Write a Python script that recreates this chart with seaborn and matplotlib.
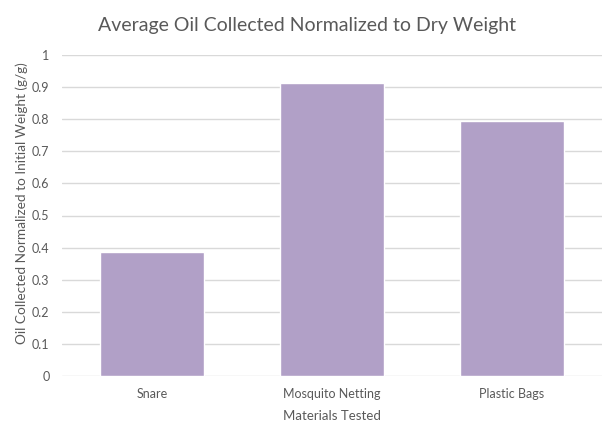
import matplotlib
matplotlib.use("Agg")
import matplotlib.pyplot as plt
import seaborn as sns
import pandas as pd

materials = ["Snare", "Mosquito Netting", "Plastic Bags"]
oil_collected = [0.386, 0.913, 0.794]
y_ticks = [0, 0.1, 0.2, 0.3, 0.4, 0.5, 0.6, 0.7, 0.8, 0.9, 1]
y_tick_labels = ["0", "0.1", "0.2", "0.3", "0.4", "0.5", "0.6", "0.7", "0.8", "0.9", "1"]

sns.set_style("white")
plt.rcParams["font.family"] = ["Lato", "DejaVu Sans"]

df = pd.DataFrame({"Material": materials, "Oil": oil_collected})

fig = plt.figure(figsize=(6.02, 4.24), dpi=100)
ax = fig.add_axes([62 / 602, 48 / 424, 540 / 602, 321 / 424])

sns.barplot(data=df, x="Material", y="Oil", color="#b1a0c7", saturation=1,
            width=0.58, ax=ax, zorder=3)

text_color = "#595959"
ax.set_ylim(0, 1)
ax.set_yticks(y_ticks)
ax.set_yticklabels(y_tick_labels)
ax.yaxis.grid(True, color="#d9d9d9", linewidth=1, zorder=0)
ax.set_axisbelow(True)
for s in ax.spines.values():
    s.set_visible(False)
ax.tick_params(axis="both", length=0, labelsize=9, colors=text_color)
ax.tick_params(axis="y", pad=9)
ax.tick_params(axis="x", pad=9)

ax.set_xlabel("Materials Tested", fontsize=9.5, color=text_color, labelpad=7)
ax.set_ylabel("Oil Collected Normalized to Initial Weight (g/g)", fontsize=9.8,
              color=text_color)
ax.yaxis.set_label_coords(-34 / 540, 0.539)
fig.text(307 / 602, 1 - 25 / 424, "Average Oil Collected Normalized to Dry Weight",
         ha="center", va="center", fontsize=14, color=text_color)

fig.savefig("out.png", dpi=100, facecolor="white")
